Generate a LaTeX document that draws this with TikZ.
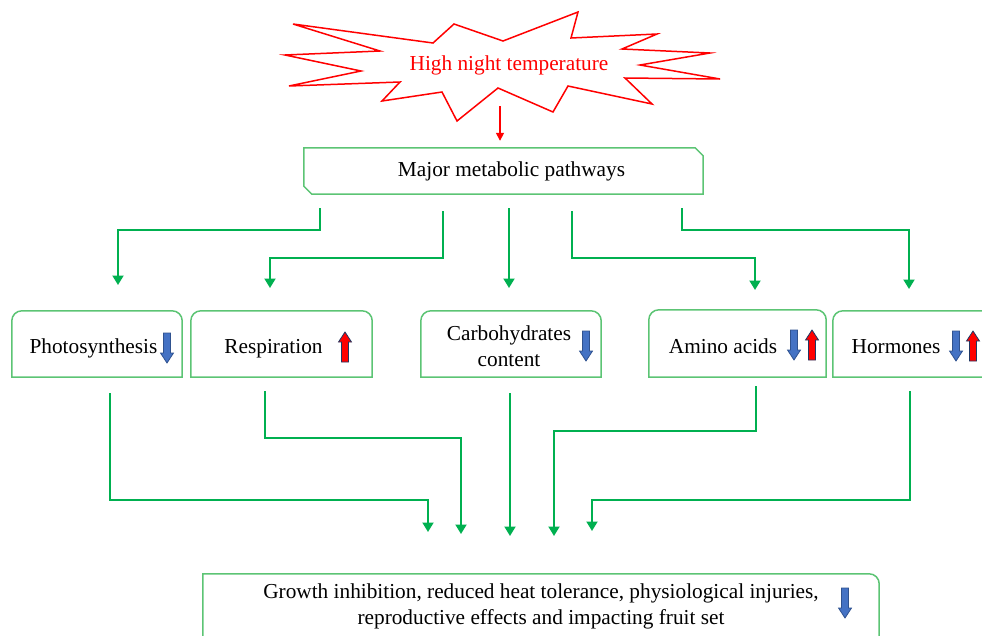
\documentclass[tikz,border=0pt]{standalone}
\usepackage{fontspec}
\setmainfont{Liberation Serif}
\usetikzlibrary{arrows.meta}
\definecolor{boxgreen}{RGB}{92,196,116}
\definecolor{linegreen}{RGB}{0,176,80}
\definecolor{arrblue}{RGB}{68,114,196}
\definecolor{arrblueline}{RGB}{47,82,143}
\definecolor{arrnavy}{RGB}{31,56,100}
\newcommand\toproundbox[1]{%
  \draw[boxline] (#1.south west) -- ([yshift=-10pt]#1.north west)
    arc[start angle=180,end angle=90,radius=10pt]
    -- ([xshift=-10pt]#1.north east)
    arc[start angle=90,end angle=0,radius=10pt]
    -- (#1.south east) -- cycle;}
\tikzset{
  txt/.style={font=\fontsize{21.3}{26}\selectfont, align=center, inner sep=0pt},
  boxline/.style={draw=boxgreen, line width=1.5pt},
  boxnode/.style={draw=none, inner sep=0pt, minimum height=66pt},
  conn/.style={draw=linegreen, line width=2pt, -{Triangle[width=11pt,length=9.5pt]}},
  dnarr/.pic={\draw[draw=arrblueline, fill=arrblue, line width=0.8pt]
     (-3.5,-15) -- (3.5,-15) -- (3.5,5) -- (6.5,5) -- (0,15) -- (-6.5,5) -- (-3.5,5) -- cycle;},
  uparr/.pic={\draw[draw=arrnavy, fill=red, line width=0.8pt]
     (-3.5,15) -- (3.5,15) -- (3.5,-5) -- (6.5,-5) -- (0,-15) -- (-6.5,-5) -- (-3.5,-5) -- cycle;},
}
\begin{document}
\begin{tikzpicture}[x=1pt,y=-1pt]
\useasboundingbox (0,0) rectangle (982,635);

% star
\draw[red, line width=1.5pt, line join=miter, fill=white]
 (293,24) -- (433,43) -- (454,24) -- (503,41) -- (578,12) -- (571,38) -- (657,34)
 -- (622,49) -- (710,53) -- (640,65) -- (720,79) -- (625,78) -- (652,104) -- (568,86)
 -- (553,112) -- (498,88) -- (457,121) -- (442,92) -- (382,101) -- (400,82) -- (289,86)
 -- (361,71) -- (285,55) -- (380,51) -- cycle;
\node[txt, text=red, anchor=base] (hnt) at (509,70) {High night temperature};

% major box
\node[boxnode, minimum width=399pt, minimum height=46pt] (major) at (503.5,171) {};
\draw[boxline] (major.north west) -- ([xshift=-8pt]major.north east) -- ([yshift=-8pt]major.north east)
  -- (major.south east) -- ([xshift=8pt]major.south west) -- ([yshift=8pt]major.south west) -- cycle;
\node[txt, anchor=base] (majt) at (511.5,176) {Major metabolic pathways};

\coordinate (s1) at (500,106);
\draw[red, line width=1.5pt, -{Triangle[width=8pt,length=8pt]}] (s1) -- ([yshift=7pt]major.north -| s1);

% category boxes
\node[boxnode, minimum width=170pt] (photo) at (97,344) {};
\node[boxnode, minimum width=181pt] (resp) at (281.5,344) {};
\node[boxnode, minimum width=180pt] (carb) at (511,344) {};
\node[boxnode, minimum width=177pt, minimum height=67pt] (amino) at (737.5,343.5) {};
\node[boxnode, minimum width=162pt] (horm) at (914,344) {};
\toproundbox{photo}
\toproundbox{resp}
\toproundbox{carb}
\toproundbox{amino}
\toproundbox{horm}

\node[txt, anchor=base] (photot) at (93.5,353) {Photosynthesis};
\node[txt, anchor=base] (respt) at (273.5,353) {Respiration};
\node[txt] (carbt) at (509,346) {Carbohydrates\\content};
\node[txt, anchor=base] (aminot) at (723,353) {Amino acids};
\node[txt, anchor=base] (hormt) at (896,353) {Hormones};

\pic at (167,348) {dnarr};
\pic at (345,347) {uparr};
\pic at (586,346) {dnarr};
\pic at (794,345) {dnarr};
\pic at (812,345) {uparr};
\pic at (956,346) {dnarr};
\pic at (973,346) {uparr};

% bottom box
\node[boxnode, minimum width=676pt, minimum height=86pt] (bot) at (541,617) {};
\draw[boxline] (bot.south west) -- (bot.north west) -- ([xshift=-10pt]bot.north east)
  arc[start angle=90,end angle=0,radius=10pt] -- (bot.south east);
\node[txt, anchor=base] (bott) at (541,624) {Growth inhibition, reduced heat tolerance, physiological injuries,\\reproductive effects and impacting fruit set};
\pic at (845,603) {dnarr};

% top connectors
\coordinate (a1) at (320,208); \coordinate (b1) at (118,285);
\coordinate (a2) at (443,211); \coordinate (b2) at (270,288);
\coordinate (a3) at (509,208); \coordinate (b3) at (509,288);
\coordinate (a4) at (572,211); \coordinate (b4) at (755,290);
\coordinate (a5) at (682,208); \coordinate (b5) at (909,289);
\draw[conn] (a1) -- (320,230) -| (b1);
\draw[conn] (a2) -- (443,258) -| (b2);
\draw[conn] (a3) -- (b3);
\draw[conn] (a4) -- (572,258) -| (b4);
\draw[conn] (a5) -- (682,230) -| (b5);

% bottom connectors
\coordinate (c1) at (110,393); \coordinate (d1) at (428,532);
\coordinate (c2) at (265,391); \coordinate (d2) at (461,534);
\coordinate (c3) at (510,393); \coordinate (d3) at (510,536);
\coordinate (c4) at (756,386); \coordinate (d4) at (554,536);
\coordinate (c5) at (910,391); \coordinate (d5) at (592,531);
\draw[conn] (c1) -- (110,500) -| (d1);
\draw[conn] (c2) -- (265,438) -| (d2);
\draw[conn] (c3) -- (d3);
\draw[conn] (c4) -- (756,431) -| (d4);
\draw[conn] (c5) -- (910,500) -| (d5);
\end{tikzpicture}
\end{document}
